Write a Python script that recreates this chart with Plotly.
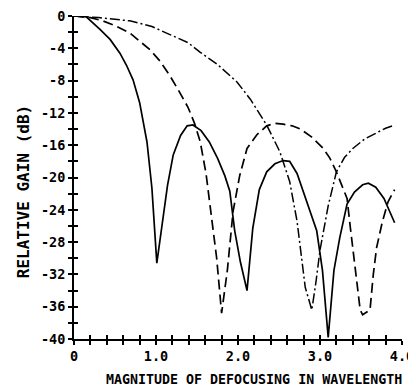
import plotly.graph_objects as go

# Solid curve
solid_x = [0, 0.15, 0.32, 0.44, 0.56, 0.64, 0.72, 0.80, 0.89, 0.95, 1.01,
           1.07, 1.14, 1.21, 1.30, 1.38, 1.45, 1.55, 1.65, 1.75, 1.84, 1.90, 1.96, 2.03, 2.11,
           2.18, 2.26, 2.35, 2.45, 2.55, 2.63, 2.72, 2.84, 2.96, 3.03, 3.10,
           3.17, 3.24, 3.33, 3.42, 3.52, 3.59, 3.68, 3.78, 3.91]
solid_y = [0, -0.1, -1.7, -2.9, -4.6, -6.1, -7.9, -10.7, -15.6, -21.3, -30.6,
           -26.3, -21.0, -17.2, -14.8, -13.6, -13.5, -14.2, -15.6, -17.6, -19.8, -21.7, -26.6, -30.5, -34.0,
           -26.3, -21.5, -19.3, -18.3, -17.9, -18.0, -19.5, -23.0, -26.6, -31.5, -39.8,
           -31.5, -27.5, -23.3, -21.8, -20.9, -20.7, -21.2, -22.6, -25.6]

# Dashed curve
dash_x = [0, 0.2, 0.35, 0.50, 0.68, 0.80, 0.93, 1.05, 1.17, 1.28, 1.39, 1.47, 1.54, 1.61, 1.68, 1.74, 1.80,
          1.87, 1.94, 2.02, 2.11, 2.23, 2.35, 2.45, 2.55, 2.66, 2.76, 2.90, 3.04, 3.12, 3.20, 3.27, 3.33,
          3.37, 3.43, 3.49, 3.52, 3.61, 3.65, 3.69, 3.76, 3.83, 3.91]
dash_y = [0, -0.2, -0.6, -1.2, -2.1, -3.1, -4.2, -5.6, -7.4, -9.3, -11.3, -13.3, -15.6, -19.5, -25.0, -30.0, -36.8,
          -31.5, -24.2, -19.8, -16.4, -14.7, -13.6, -13.3, -13.4, -13.6, -14.0, -15.0, -16.4, -17.6, -19.3, -21.0, -22.6,
          -26.2, -31.0, -36.4, -37.0, -36.4, -32.0, -28.7, -25.5, -23.0, -21.5]

# Dash-dot curve
dd_x = [0, 0.3, 0.68, 0.95, 1.17, 1.39, 1.54, 1.75, 1.99, 2.15, 2.35, 2.51, 2.63, 2.72, 2.82, 2.90,
        2.95, 3.00, 3.10, 3.20, 3.30, 3.40, 3.55, 3.70, 3.80, 3.91]
dd_y = [0, -0.2, -0.6, -1.3, -2.3, -3.3, -4.5, -6.0, -8.2, -10.3, -13.5, -16.8, -20.5, -25.4, -33.6, -36.4,
        -33.0, -29.0, -23.5, -19.3, -17.5, -16.4, -15.2, -14.4, -13.9, -13.5]

x_ticks = [round(i * 0.2, 1) for i in range(21)]
x_labels = {0.0: "0", 1.0: "1.0", 2.0: "2.0", 3.0: "3.0", 4.0: "4.0"}
y_ticks = list(range(0, -41, -2))
y_labels = {v: str(v) for v in range(0, -41, -4)}

FONT = "DejaVu Sans Mono"

fig = go.Figure()
fig.add_trace(go.Scatter(x=solid_x, y=solid_y, mode="lines",
                         line=dict(color="black", width=1.7), showlegend=False))
fig.add_trace(go.Scatter(x=dash_x, y=dash_y, mode="lines",
                         line=dict(color="black", width=1.7, dash="10px,5px"), showlegend=False))
fig.add_trace(go.Scatter(x=dd_x, y=dd_y, mode="lines",
                         line=dict(color="black", width=1.5, dash="10px,3px,2px,3px"), showlegend=False))
fig.add_trace(go.Scatter(x=[None], y=[None], xaxis="x2", yaxis="y2", showlegend=False))

tickfont = dict(family=FONT, size=13.5, color="black", weight="bold")

# page body has an 8px margin, so the figure is offset to land the plot area correctly
fig.update_layout(
    width=416, height=389,
    margin=dict(l=66, r=22, t=8, b=58),
    plot_bgcolor="white", paper_bgcolor="white",
    xaxis=dict(range=[0, 4], showgrid=False, zeroline=False, showline=True, linecolor="black",
               linewidth=2, ticks="outside", ticklen=4, tickwidth=2, tickcolor="black", automargin=False,
               ticklabeloverflow="allow",
               tickvals=x_ticks, ticktext=[x_labels.get(v, "") for v in x_ticks], tickfont=tickfont),
    yaxis=dict(range=[-40, 0], showgrid=False, zeroline=False, showline=True, linecolor="black",
               linewidth=2, ticks="outside", ticklen=4, tickwidth=2, tickcolor="black", automargin=False,
               ticklabeloverflow="allow",
               tickvals=y_ticks, ticktext=[y_labels.get(v, "") for v in y_ticks], tickfont=tickfont),
    xaxis2=dict(range=[0, 4], overlaying="x", showgrid=False, zeroline=False, showline=False,
                ticks="inside", ticklen=4, tickwidth=2, tickcolor="black", automargin=False,
                tickvals=x_ticks, showticklabels=False),
    yaxis2=dict(range=[-40, 0], overlaying="y", showgrid=False, zeroline=False, showline=False,
                ticks="inside", ticklen=4, tickwidth=2, tickcolor="black", automargin=False,
                tickvals=y_ticks, showticklabels=False),
    annotations=[
        dict(text="RELATIVE GAIN (dB)", textangle=-90, xref="paper", yref="paper",
             x=(24 - 74) / 323, y=(339 - 192) / 323, xanchor="center", yanchor="middle",
             showarrow=False, font=dict(family=FONT, size=16, color="black", weight="bold")),
        dict(text="MAGNITUDE OF DEFOCUSING IN WAVELENGTH", xref="paper", yref="paper",
             x=(253.5 - 74) / 328, y=(339 - 389) / 323, xanchor="center", yanchor="bottom",
             showarrow=False, font=dict(family=FONT, size=13.3, color="black", weight="bold")),
    ],
)

fig.write_html("out.html")
